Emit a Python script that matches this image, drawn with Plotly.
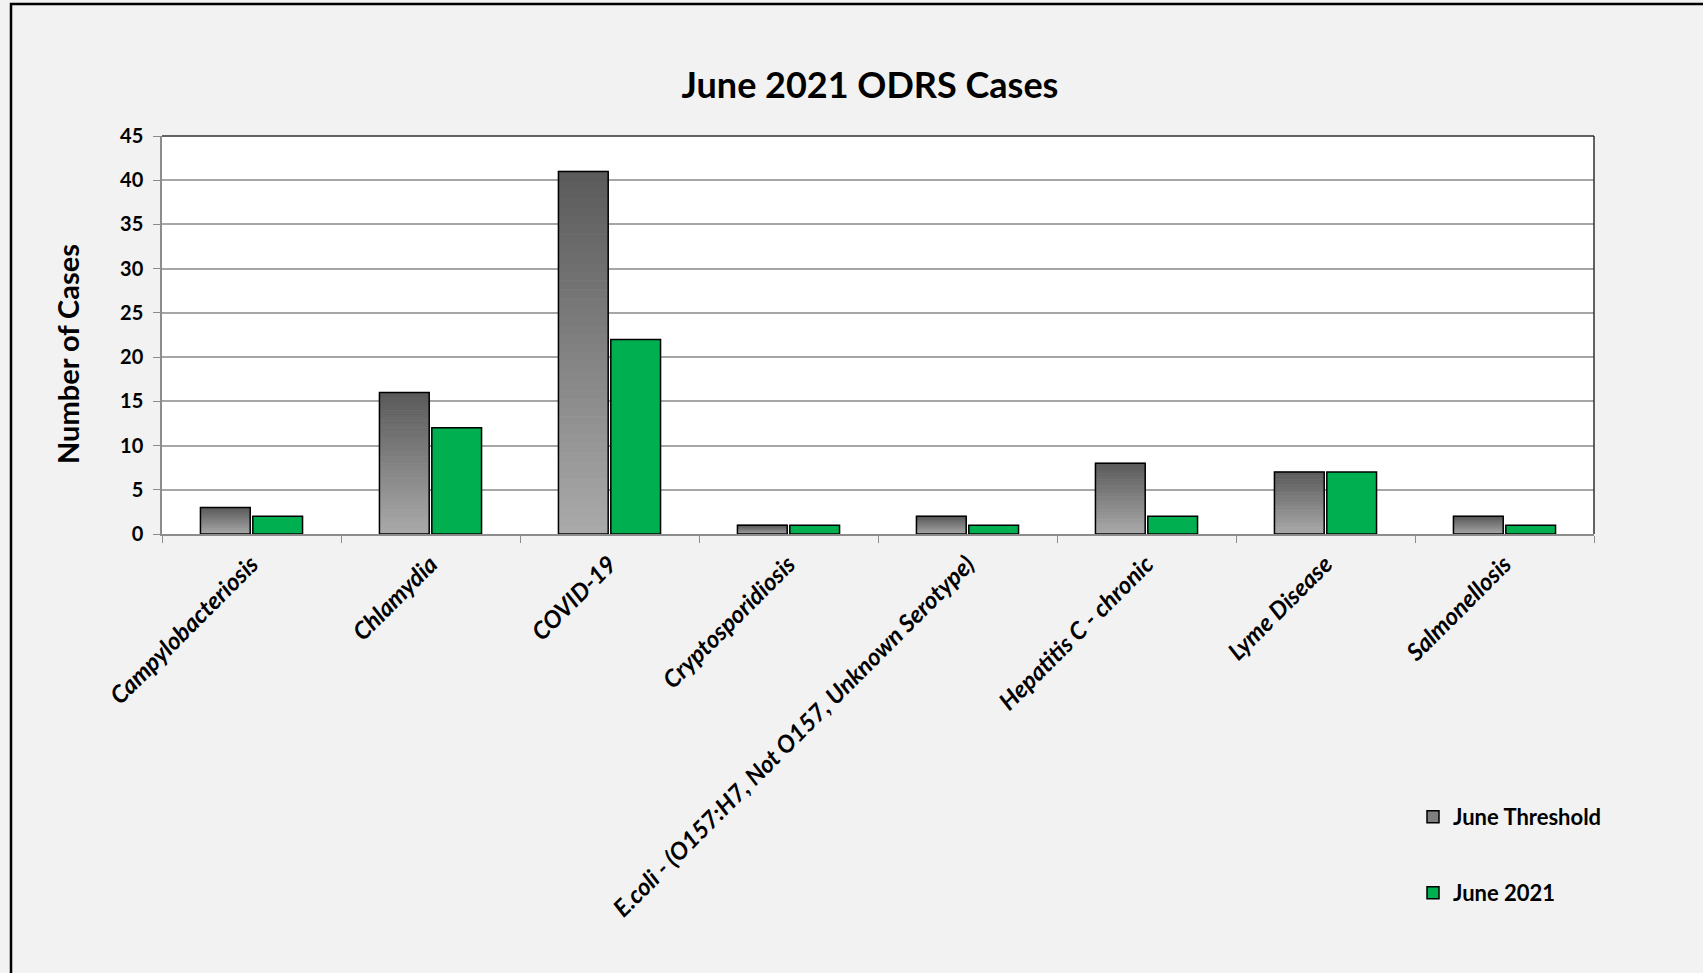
import plotly.graph_objects as go

categories = ["Campylobacteriosis", "Chlamydia", "COVID-19", "Cryptosporidiosis",
              "E.coli - (O157:H7, Not O157, Unknown Serotype)", "Hepatitis C - chronic",
              "Lyme Disease", "Salmonellosis"]
june_threshold = [3, 16, 41, 1, 2, 8, 7, 2]
june_2021 = [2, 12, 22, 1, 1, 2, 7, 1]
y_ticks = [0, 5, 10, 15, 20, 25, 30, 35, 40, 45]

FONT = "Lato"
W, H = 1703, 973
L, R, T, B = 162, 109, 136, 439
PW, PH = W - L - R, H - T - B

fig = go.Figure()

# gradient segments for threshold bars (dark top -> light bottom)
N = 40
top_rgb = (0x5a, 0x5a, 0x5a)
bot_rgb = (0xaa, 0xaa, 0xaa)
for i in range(N):
    f = (i + 0.5) / N
    c = tuple(int(round(bot_rgb[k] + (top_rgb[k] - bot_rgb[k]) * f)) for k in range(3))
    col = "rgb(%d,%d,%d)" % c
    fig.add_trace(go.Bar(
        x=categories, y=[v / N for v in june_threshold],
        base=[v * i / N for v in june_threshold],
        offsetgroup="thr", marker=dict(color=col, line=dict(width=0.8, color=col)),
        showlegend=False, hoverinfo="skip"))
# outline of threshold bars
fig.add_trace(go.Bar(
    x=categories, y=june_threshold, offsetgroup="thr", name="June Threshold",
    marker=dict(color="rgba(0,0,0,0)", line=dict(color="black", width=1.5)),
    showlegend=False))
# legend entry for threshold
fig.add_trace(go.Bar(
    x=categories, y=[None] * len(categories), offsetgroup="thr", name="June Threshold",
    marker=dict(color="#7f7f7f", line=dict(color="black", width=1.5)),
    legend="legend", hoverinfo="skip"))
fig.add_trace(go.Bar(
    x=categories, y=june_2021, offsetgroup="jun", name="June 2021",
    marker=dict(color="#00b050", line=dict(color="black", width=1.5)),
    legend="legend2"))

def px_x(x):
    return (x - L) / PW

def px_y(y):
    return (H - B - y) / PH

legend_font = dict(family=FONT, size=22, color="black", weight="bold")

fig.update_layout(
    width=W, height=H,
    margin=dict(l=L, r=R, t=T, b=B, autoexpand=False),
    paper_bgcolor="#f2f2f2", plot_bgcolor="white",
    barmode="group", bargap=0.415, bargroupgap=0.05,
    font=dict(family=FONT, color="black"),
    title=dict(text="<b>June 2021 ODRS Cases</b>", x=870 / W, y=1 - 85 / H,
               xanchor="center", yanchor="middle",
               font=dict(family=FONT, size=36, color="black")),
    xaxis=dict(type="category", showgrid=False, showline=True, linecolor="#8c8c8c",
               linewidth=1.5, ticks="outside", tickson="boundaries", ticklen=7,
               tickcolor="#8c8c8c", tickangle=-45, ticklabelstandoff=5,
               tickfont=dict(family=FONT, size=24, color="black", weight="bold", style="italic")),
    yaxis=dict(range=[0, 45], tickvals=y_ticks, showgrid=True, gridcolor="#a6a6a6",
               gridwidth=1.5, showline=True, linecolor="#8c8c8c", linewidth=1.5,
               ticks="outside", ticklen=7, tickcolor="#8c8c8c", ticklabelstandoff=6,
               tickfont=dict(family=FONT, size=20, color="black", weight="bold"),
               zeroline=False),
    annotations=[dict(text="<b>Number of Cases</b>", xref="paper", yref="paper",
                      x=px_x(67), y=px_y(354), xanchor="center", yanchor="middle",
                      textangle=-90, showarrow=False,
                      font=dict(family=FONT, size=29, color="black"))],
    legend=dict(x=px_x(1413), y=px_y(817), xanchor="left", yanchor="middle",
                bgcolor="rgba(0,0,0,0)", itemwidth=30, font=legend_font),
    legend2=dict(x=px_x(1413), y=px_y(893), xanchor="left", yanchor="middle",
                 bgcolor="rgba(0,0,0,0)", itemwidth=30, font=legend_font),
    shapes=[
        dict(type="line", xref="paper", yref="paper", x0=0, x1=1, y0=1, y1=1,
             line=dict(color="#303030", width=1.5)),
        dict(type="line", xref="paper", yref="paper", x0=1, x1=1, y0=0, y1=1,
             line=dict(color="#303030", width=1.5)),
        dict(type="rect", xref="paper", yref="paper", x0=px_x(11), x1=px_x(1720),
             y0=px_y(990), y1=px_y(4), line=dict(color="black", width=2.5)),
    ],
)

fig.write_html("out.html", config={"displayModeBar": False},
               post_script="document.body.style.margin='0';document.body.style.overflow='hidden';")
